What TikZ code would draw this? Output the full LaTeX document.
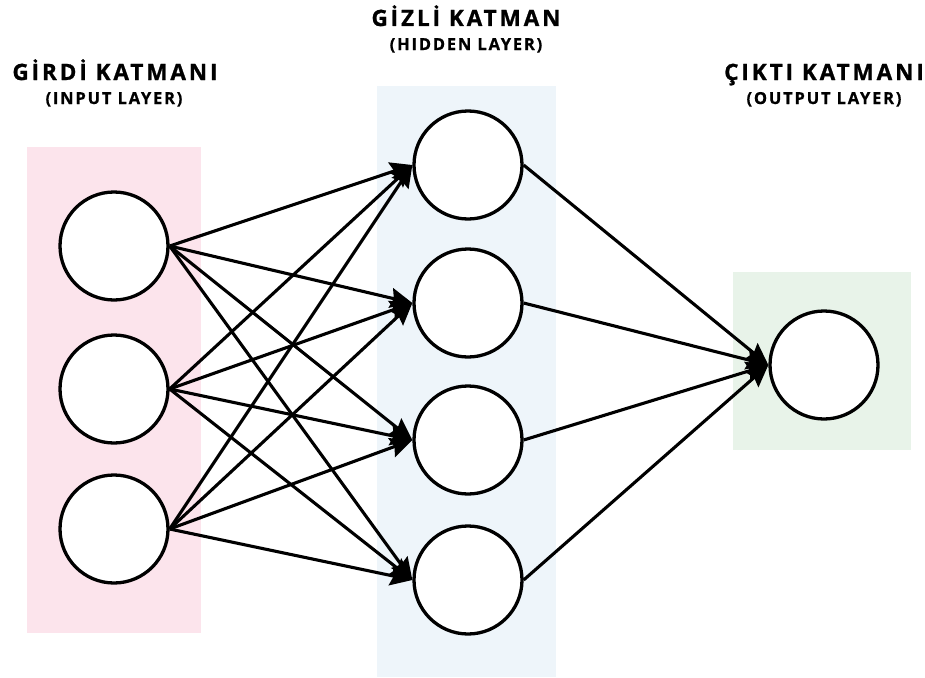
\documentclass[tikz,border=0pt]{standalone}
\usepackage{fontspec}
\setmainfont{Open Sans}
\newfontfamily\titlefont[LetterSpace=13,FakeBold=1]{Open Sans Bold}
\newfontfamily\subfont[LetterSpace=11,FakeBold=0.8]{Open Sans Bold}
\usetikzlibrary{arrows.meta}
\definecolor{inbg}{HTML}{FCE4EC}
\definecolor{hidbg}{HTML}{EEF5FA}
\definecolor{outbg}{HTML}{E8F3E9}
\begin{document}
\begin{tikzpicture}[x=1pt,y=-1pt,
  neuron/.style={circle,draw=black,line width=3.3pt,fill=white,minimum size=108pt,inner sep=0pt},
  link/.style={line width=3.1pt,-{Stealth[length=22pt,width=20pt,inset=3pt]}},
  heading/.style={font=\titlefont\fontsize{22.5}{27}\selectfont,inner sep=0pt,anchor=base},
  subheading/.style={font=\subfont\fontsize{16.5}{19}\selectfont,inner sep=0pt,anchor=base}]
\useasboundingbox (0,0) rectangle (925,677);
% layer backgrounds
\fill[inbg] (27,147) rectangle (201,633);
\fill[hidbg] (377,86) rectangle (556,677);
\fill[outbg] (733,272) rectangle (911,450);
% titles (placed on their baselines)
\node[heading] (t1) at (115,80) {GİRDİ KATMANI};
\node[subheading] (s1) at (114,104) {(INPUT LAYER)};
\node[heading] (t2) at (466,26) {GİZLİ KATMAN};
\node[subheading] (s2) at (466,50) {(HIDDEN LAYER)};
\node[heading] (t3) at (824,80) {ÇIKTI KATMANI};
\node[subheading] (s3) at (824,104) {(OUTPUT LAYER)};
% neurons
\node[neuron] (i1) at (114,246) {};
\node[neuron] (i2) at (114,389) {};
\node[neuron] (i3) at (114,529) {};
\node[neuron] (h1) at (468,165) {};
\node[neuron] (h2) at (468,303) {};
\node[neuron] (h3) at (468,440) {};
\node[neuron] (h4) at (468,580) {};
\node[neuron] (o1) at (824,365) {};
% connections
\foreach \a in {i1,i2,i3}
  \foreach \b in {h1,h2,h3,h4}
    \draw[link] (\a.east) -- (\b.west);
\foreach \b in {h1,h2,h3,h4}
  \draw[link] (\b.east) -- (o1.west);
\end{tikzpicture}
\end{document}
